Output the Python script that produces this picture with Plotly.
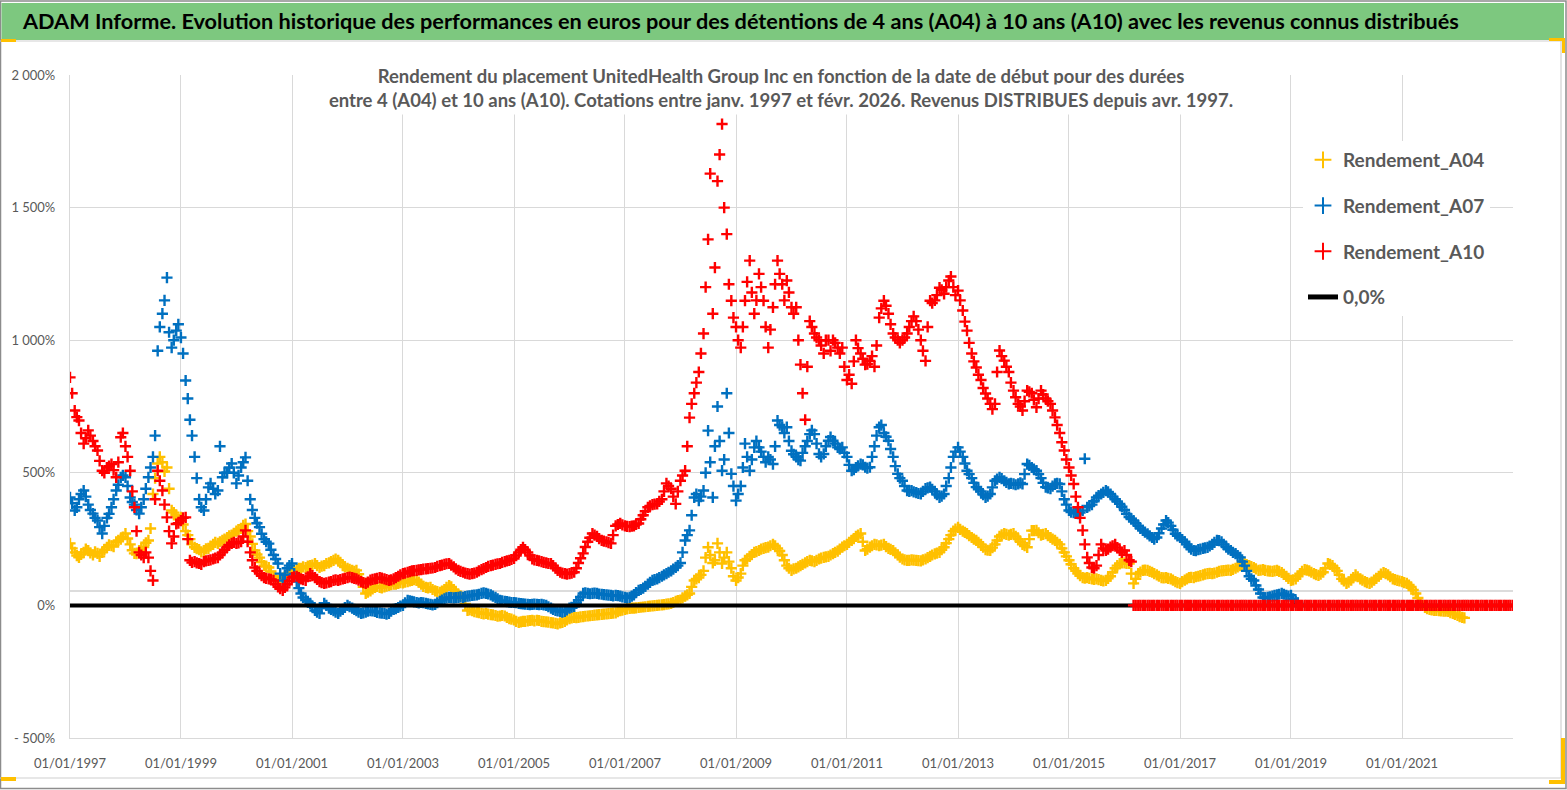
import pandas as pd
import plotly.graph_objects as go

# ---------------- data: readings on the 1st of each month (%) ----------------
A04 = [
    234, 200, 181, 200, 207, 190, 196, 200, 219, 225, 240, 250,   # 1997
    271, 230, 196, 207, 220, 245, 420, 535, 540, 520, 358, 340,   # 1998
    332, 280, 250, 219, 210, 207, 215, 230, 234, 245, 256, 265,   # 1999
    280, 290, 307, 260, 207, 180, 150, 143, 110, 94, 100, 120,    # 2000
    132, 135, 140, 143, 150, 158, 143, 150, 160, 170, 170, 150,   # 2001
    140, 132, 132, 100, 45, 55, 68, 68, 70, 75, 80, 83,           # 2002
    85, 90, 94, 94, 80, 68, 68, 55, 49, 60, 75, 60,               # 2003
    40, 30, -19, -20, -25, -30, -30, -35, -38, -40, -40, -50,     # 2004
    -55, -64, -60, -58, -56, -56, -60, -62, -65, -68, -66, -60,   # 2005
    -50, -45, -45, -42, -40, -38, -36, -34, -32, -30, -28, -20,   # 2006
    -15, -11, -10, -8, -6, -4, -2, 0, 2, 5, 8, 15,                # 2007
    20, 35, 45, 94, 105, 130, 219, 160, 234, 158, 200, 140,       # 2008
    94, 120, 170, 185, 200, 207, 215, 220, 230, 215, 190, 150,    # 2009
    132, 140, 150, 160, 170, 165, 175, 181, 185, 195, 205, 220,   # 2010
    230, 245, 260, 271, 207, 220, 230, 225, 230, 215, 207, 190,   # 2011
    175, 170, 172, 170, 168, 175, 185, 194, 200, 219, 250, 280,   # 2012
    294, 280, 271, 256, 245, 230, 210, 207, 230, 260, 271, 265,   # 2013
    271, 250, 230, 219, 282, 283, 265, 271, 256, 245, 230, 200,   # 2014
    170, 140, 120, 105, 105, 100, 100, 94, 94, 110, 140, 158,     # 2015
    160, 158, 83, 120, 132, 132, 125, 115, 105, 105, 100, 90,     # 2016
    83, 95, 105, 105, 110, 115, 120, 120, 125, 130, 132, 132,     # 2017
    140, 150, 158, 150, 143, 132, 135, 130, 128, 132, 124, 110,   # 2018
    94, 100, 120, 135, 130, 120, 113, 125, 158, 150, 130, 100,    # 2019
    83, 95, 115, 100, 90, 83, 95, 110, 124, 115, 100, 94,         # 2020
    90, 83, 70, 45, 10, -8, -15, -19, -20, -22, -23, -30,         # 2021
    -38, -45,                                                     # 2022
]
# readings around the 15th of each month (%)
A04_MID = [
    215, 188, 192, 212, 198, 202, 185, 210, 228, 222, 245, 258,   # 1997
    252, 208, 195, 214, 236, 290, 480, 560, 505, 440, 350, 325,   # 1998
    305, 265, 230, 214, 202, 213, 224, 238, 240, 250, 262, 272,   # 1999
    286, 302, 280, 232, 192, 163, 148, 128, 102, 92, 108, 126,    # 2000
    130, 140, 145, 148, 152, 150, 148, 158, 165, 175, 162, 145,   # 2001
    136, 128, 118, 70, 50, 62, 72, 66, 73, 78, 80, 86,            # 2002
    88, 92, 97, 88, 72, 66, 60, 52, 54, 68, 70, 50,               # 2003
    36, 5, -17, -24, -27, -32, -33, -36, -41, -38, -45, -52,      # 2004
    -60, -62, -60, -57, -58, -57, -61, -63, -66, -70, -64, -55,   # 2005
    -47, -46, -43, -41, -39, -37, -35, -33, -31, -29, -24, -18,   # 2006
    -13, -10, -9, -7, -5, -3, -1, 1, 3, 6, 11, 18,                # 2007
    28, 40, 70, 100, 115, 180, 190, 170, 200, 180, 165, 110,      # 2008
    105, 150, 175, 192, 203, 212, 218, 225, 225, 205, 170, 140,   # 2009
    138, 145, 155, 165, 168, 170, 178, 183, 190, 200, 212, 225,   # 2010
    238, 252, 265, 240, 212, 225, 228, 227, 222, 211, 198, 182,   # 2011
    172, 170, 171, 169, 172, 180, 190, 197, 210, 235, 265, 288,   # 2012
    287, 275, 263, 250, 238, 220, 208, 218, 245, 266, 268, 268,   # 2013
    260, 240, 225, 250, 282, 274, 268, 263, 250, 238, 215, 185,   # 2014
    155, 130, 112, 103, 102, 98, 97, 92, 102, 125, 150, 160,      # 2015
    158, 120, 100, 126, 133, 128, 120, 110, 104, 102, 95, 86,     # 2016
    90, 100, 106, 108, 112, 118, 121, 122, 128, 131, 133, 136,    # 2017
    145, 155, 154, 146, 138, 133, 132, 129, 130, 128, 117, 102,   # 2018
    96, 110, 128, 133, 125, 116, 118, 140, 155, 140, 115, 92,     # 2019
    88, 105, 108, 95, 86, 88, 102, 118, 120, 108, 97, 92,         # 2020
    86, 77, 58, 28, 0, -12, -17, -19, -21, -22, -27, -34,         # 2021
    -42, -47,                                                     # 2022
]

A07 = [
    407, 358, 400, 433, 380, 346, 320, 271, 330, 370, 433, 483,   # 1997
    483, 407, 380, 346, 400, 483, 560, 960, 1100, 1236, 972, 1036,  # 1998
    1010, 848, 700, 560, 400, 358, 445, 440, 433, 483, 500, 535,  # 1999
    460, 520, 558, 400, 330, 295, 250, 233, 190, 158, 94, 140,    # 2000
    158, 90, 45, 20, 8, -19, -30, 8, -10, -20, -30, -15,          # 2001
    0, -10, -20, -30, -25, -20, -23, -28, -30, -30, -15, -8,      # 2002
    0, 19, 15, 11, 11, 8, 4, 4, 15, 25, 30, 28,                   # 2003
    30, 30, 35, 38, 40, 45, 45, 40, 30, 19, 15, 12,               # 2004
    11, 8, 6, 4, 4, 4, 4, 0, -10, -19, -23, -23,                  # 2005
    -10, -4, 20, 45, 45, 45, 45, 42, 40, 38, 38, 35,              # 2006
    30, 30, 40, 57, 65, 80, 94, 100, 110, 120, 130, 143,          # 2007
    160, 245, 283, 407, 395, 433, 659, 407, 750, 508, 800, 496,   # 2008
    395, 450, 610, 508, 596, 596, 560, 560, 533, 697, 672, 672,   # 2009
    583, 560, 546, 600, 646, 646, 571, 571, 621, 621, 596, 596,   # 2010
    560, 508, 520, 533, 521, 521, 600, 672, 650, 621, 560, 496,   # 2011
    470, 433, 433, 425, 420, 440, 446, 430, 407, 420, 480, 560,   # 2012
    596, 560, 508, 480, 446, 430, 407, 420, 470, 483, 470, 458,   # 2013
    458, 458, 458, 533, 520, 508, 480, 446, 440, 458, 458, 400,   # 2014
    358, 350, 346, 358, 370, 380, 407, 420, 433, 420, 400, 383,   # 2015
    360, 333, 320, 300, 283, 270, 256, 256, 290, 320, 300, 270,   # 2016
    256, 240, 220, 207, 210, 215, 219, 230, 245, 240, 220, 207,   # 2017
    195, 181, 150, 110, 94, 60, 30, 30, 35, 40, 45, 38,           # 2018
    38, 15,                                                       # 2019
]
A07_MID = [
    385, 370, 420, 410, 360, 330, 295, 300, 345, 400, 455, 490,   # 1997
    450, 390, 360, 370, 440, 520, 640, 1050, 1150, 1030, 1000, 1060,  # 1998
    950, 780, 640, 480, 370, 400, 460, 420, 600, 500, 520, 500,   # 1999
    490, 540, 470, 360, 310, 270, 240, 210, 175, 120, 115, 150,   # 2000
    120, 65, 30, 15, -5, -25, -10, 0, -15, -25, -22, -8,          # 2001
    -5, -15, -25, -28, -22, -21, -26, -29, -33, -22, -12, -3,     # 2002
    10, 17, 13, 9, 10, 6, 2, 10, 20, 28, 29, 29,                  # 2003
    32, 33, 36, 39, 42, 47, 43, 35, 25, 17, 14, 11,               # 2004
    10, 7, 5, 3, 5, 3, 2, -5, -15, -21, -25, -17,                 # 2005
    -7, 8, 32, 47, 44, 46, 43, 41, 39, 36, 37, 32,                # 2006
    28, 35, 48, 60, 72, 87, 97, 105, 115, 125, 137, 150,          # 2007
    200, 265, 340, 420, 410, 500, 540, 600, 620, 550, 650, 450,   # 2008
    420, 520, 560, 550, 620, 580, 540, 550, 600, 680, 650, 620,   # 2009
    570, 550, 575, 620, 660, 610, 560, 600, 635, 610, 590, 575,   # 2010
    530, 512, 526, 530, 518, 560, 640, 680, 636, 590, 525, 480,   # 2011
    450, 430, 428, 422, 430, 443, 438, 418, 412, 450, 520, 580,   # 2012
    580, 535, 495, 462, 438, 418, 412, 445, 476, 478, 464, 460,   # 2013
    455, 462, 495, 528, 514, 495, 462, 443, 450, 460, 430, 380,   # 2014
    352, 348, 350, 553, 375, 393, 414, 426, 428, 410, 392, 372,   # 2015
    345, 326, 310, 290, 276, 262, 250, 272, 305, 312, 285, 262,   # 2016
    248, 230, 212, 206, 212, 217, 224, 238, 244, 230, 212, 200,   # 2017
    188, 165, 130, 100, 75, 45, 28, 32, 38, 42, 42, 35,           # 2018
    25, 10,                                                       # 2019
]

A10 = [
    860, 735, 697, 610, 660, 620, 584, 508, 520, 533, 483, 634,   # 1997
    600, 508, 370, 200, 180, 180, 94, 508, 433, 332, 234, 307,    # 1998
    320, 332, 170, 165, 158, 165, 170, 175, 180, 200, 220, 234,   # 1999
    234, 240, 283, 200, 143, 120, 105, 100, 94, 70, 57, 80,       # 2000
    105, 110, 100, 94, 120, 105, 90, 83, 88, 94, 94, 100,         # 2001
    105, 105, 100, 90, 83, 95, 100, 105, 100, 94, 100, 110,       # 2002
    120, 125, 130, 132, 135, 138, 140, 143, 150, 155, 158, 145,   # 2003
    132, 125, 120, 120, 125, 135, 143, 150, 155, 158, 165, 170,   # 2004
    177, 200, 219, 200, 175, 170, 165, 160, 158, 140, 125, 120,   # 2005
    120, 125, 160, 196, 240, 271, 260, 245, 240, 234, 300, 309,   # 2006
    300, 297, 300, 309, 340, 370, 380, 383, 400, 460, 440, 383,   # 2007
    470, 508, 708, 800, 880, 1025, 1380, 1100, 1600, 1815, 1400, 1149,  # 2008
    1050, 972, 1149, 1300, 1100, 1250, 1149, 972, 1124, 1300, 1211, 1225,  # 2009
    1124, 1124, 908, 700, 1072, 1025, 1000, 950, 1000, 1000, 972, 972,  # 2010
    850, 836, 1000, 950, 908, 922, 900, 1085, 1149, 1100, 1025, 1000,  # 2011
    1000, 1025, 1072, 1072, 1000, 922, 1149, 1150, 1198, 1175, 1225, 1200,  # 2012
    1187, 1112, 1036, 950, 897, 850, 799, 760, 760, 961, 923, 880,  # 2013
    810, 760, 735, 810, 800, 747, 810, 780, 760, 709, 650, 584,   # 2014
    520, 458, 370, 283, 181, 143, 150, 230, 207, 220, 230, 207,   # 2015
    207, 170,                                                     # 2016
]
A10_MID = [
    800, 710, 650, 630, 640, 600, 545, 500, 525, 510, 540, 650,   # 1997
    560, 430, 280, 190, 200, 130, 400, 470, 380, 280, 260, 310,   # 1998
    330, 250, 162, 160, 155, 168, 172, 178, 190, 210, 228, 238,   # 1999
    236, 260, 240, 170, 130, 112, 102, 98, 80, 63, 68, 92,        # 2000
    108, 105, 97, 108, 112, 98, 86, 85, 90, 96, 97, 102,          # 2001
    107, 102, 95, 86, 88, 98, 102, 103, 97, 96, 105, 115,         # 2002
    122, 127, 131, 134, 137, 139, 141, 147, 152, 157, 152, 138,   # 2003
    128, 122, 118, 122, 130, 139, 147, 152, 157, 162, 168, 173,   # 2004
    188, 210, 210, 188, 172, 168, 162, 158, 150, 132, 122, 118,   # 2005
    122, 140, 178, 220, 255, 265, 252, 242, 237, 265, 305, 304,   # 2006
    298, 299, 305, 325, 355, 375, 382, 392, 430, 450, 410, 430,   # 2007
    490, 600, 760, 840, 950, 1200, 1628, 1274, 1700, 1500, 1211, 1085,  # 2008
    1000, 1050, 1220, 1180, 1150, 1200, 1050, 1040, 1211, 1250, 1150, 1180,  # 2009
    1100, 1000, 800, 900, 1050, 1010, 980, 1000, 960, 990, 950, 900,  # 2010
    870, 920, 970, 930, 910, 940, 980, 1120, 1130, 1060, 1010, 990,  # 2011
    1010, 1050, 1090, 1040, 960, 1050, 1140, 1170, 1190, 1200, 1240, 1170,  # 2012
    1150, 1070, 990, 920, 870, 820, 780, 740, 880, 940, 900, 840,  # 2013
    785, 750, 770, 805, 775, 780, 795, 770, 735, 680, 615, 550,   # 2014
    490, 410, 330, 230, 160, 140, 190, 215, 212, 225, 218, 200,   # 2015
    190, 165,                                                     # 2016
]
A10_TAIL_START = "2016-03-01"
A10_TAIL_END = "2023-01-01"

ZERO_LINE_DATES = ["1997-01-01", "2023-01-01"]
ZERO_LINE_VALUES = [0, 0]
REF_LINE_VALUES = [54, 54]

SERIES_NAMES = ["Rendement_A04", "Rendement_A07", "Rendement_A10"]
ZERO_NAME = "0,0%"

Y_TICKS = [-500, 0, 500, 1000, 1500, 2000]
Y_TICK_TEXT = ["- 500%", "0%", "500%", "1 000%", "1 500%", "2 000%"]
X_TICKS = ["1997-01-01", "1999-01-01", "2001-01-01", "2003-01-01", "2005-01-01",
           "2007-01-01", "2009-01-01", "2011-01-01", "2013-01-01", "2015-01-01",
           "2017-01-01", "2019-01-01", "2021-01-01"]
X_TICK_TEXT = ["01/01/1997", "01/01/1999", "01/01/2001", "01/01/2003", "01/01/2005",
               "01/01/2007", "01/01/2009", "01/01/2011", "01/01/2013", "01/01/2015",
               "01/01/2017", "01/01/2019", "01/01/2021"]

TITLE = ("ADAM Informe. Evolution historique des performances en euros pour des "
         "détentions de 4 ans (A04) à 10 ans (A10) avec les revenus connus distribués")
SUB1 = ("Rendement du placement UnitedHealth Group Inc en fonction de la date de "
        "début pour des durées")
SUB2 = ("entre 4 (A04) et 10 ans (A10). Cotations entre janv. 1997 et févr. 2026. "
        "Revenus DISTRIBUES depuis avr. 1997.")

# ---------------- figure ----------------
W, H = 1567, 790
ML, MR, MT, MB = 70, 54, 75, 52
PW, PH = W - ML - MR, H - MT - MB


def px(xp):
    return (xp - ML) / PW


def py(yp):
    return (H - MB - yp) / PH


FONT = "Lato"
GREY = "#595959"
COLORS = ["#FFC000", "#0070C0", "#FF0000"]


def dated(values, mids):
    starts = pd.date_range("1997-01-01", periods=len(values), freq="MS")
    middles = starts + pd.Timedelta(days=14)
    return list(starts) + list(middles), list(values) + list(mids)


x04, y04 = dated(A04, A04_MID)
x07, y07 = dated(A07, A07_MID)
x10, y10 = dated(A10, A10_MID)
d10_tail = pd.date_range(A10_TAIL_START, A10_TAIL_END, freq="SMS")
x10 = x10 + list(d10_tail)
y10 = y10 + [0] * len(d10_tail)

fig = go.Figure()

fig.add_trace(go.Scatter(x=ZERO_LINE_DATES, y=REF_LINE_VALUES, mode="lines",
                         line=dict(color="#D0D0D0", width=1.5), showlegend=False,
                         hoverinfo="skip"))


def marker_trace(x, y, name, color, rank):
    return go.Scatter(x=x, y=y, mode="markers", name=name, legendgroup=name,
                      legendrank=rank,
                      marker=dict(symbol="cross-thin", size=8, color=color,
                                  line=dict(color=color, width=2.4)))


fig.add_trace(marker_trace(x04, y04, SERIES_NAMES[0], COLORS[0], 1))
fig.add_trace(marker_trace(x07, y07, SERIES_NAMES[1], COLORS[1], 2))
fig.add_trace(go.Scatter(x=ZERO_LINE_DATES, y=ZERO_LINE_VALUES, mode="lines",
                         name=ZERO_NAME, legendgroup=ZERO_NAME, legendrank=4,
                         line=dict(color="black", width=4)))
fig.add_trace(marker_trace(x10, y10, SERIES_NAMES[2], COLORS[2], 3))

shapes = []
# outer frame
shapes.append(dict(type="rect", xref="paper", yref="paper", x0=px(0.5), x1=px(W - 1),
                   y0=py(H - 1.5), y1=py(1), line=dict(color="#8C8C8C", width=1.5)))
# green title band
shapes.append(dict(type="rect", xref="paper", yref="paper", x0=px(1.5), x1=px(1564),
                   y0=py(40), y1=py(3), fillcolor="#7DC87F", line=dict(width=0)))
# inner panel border
shapes.append(dict(type="line", xref="paper", yref="paper", x0=px(0), x1=px(1564),
                   y0=py(41), y1=py(41), line=dict(color="#D0D0D0", width=1.2)))
shapes.append(dict(type="line", xref="paper", yref="paper", x0=px(1561), x1=px(1561),
                   y0=py(41), y1=py(778), line=dict(color="#D0D0D0", width=1.2)))
shapes.append(dict(type="line", xref="paper", yref="paper", x0=px(0), x1=px(1561),
                   y0=py(778), y1=py(778), line=dict(color="#D0D0D0", width=1.2)))
# yellow selection handles
HANDLE = "#FFC000"
for (x0, y0, x1, y1) in [(1, 39, 16, 42), (1, 777, 16, 781), (1549, 38, 1565, 41),
                         (1562, 38, 1565, 53), (1561, 738, 1565, 784),
                         (1549, 780, 1565, 784)]:
    shapes.append(dict(type="rect", xref="paper", yref="paper", x0=px(x0), x1=px(x1),
                       y0=py(y1), y1=py(y0), fillcolor=HANDLE, line=dict(width=0)))

annotations = [
    dict(text=TITLE, xref="paper", yref="paper", x=px(20), y=py(21), xanchor="left",
         yanchor="middle", showarrow=False,
         font=dict(family=FONT, size=21.7, color="black", weight="bold")),
    dict(text=SUB1, xref="paper", yref="paper", x=px(781), y=py(75), xanchor="center",
         yanchor="middle", showarrow=False, width=918, height=27, bgcolor="white",
         font=dict(family=FONT, size=18.5, color=GREY, weight="bold")),
    dict(text=SUB2, xref="paper", yref="paper", x=px(781), y=py(100), xanchor="center",
         yanchor="middle", showarrow=False, width=918, height=27, bgcolor="white",
         font=dict(family=FONT, size=18.5, color=GREY, weight="bold")),
]

fig.update_layout(
    width=W, height=H,
    margin=dict(l=ML, r=MR, t=MT, b=MB, pad=0),
    paper_bgcolor="white", plot_bgcolor="white",
    shapes=shapes, annotations=annotations,
    showlegend=True,
    legend=dict(x=px(1303), y=py(141), xanchor="left", yanchor="top",
                bgcolor="white", tracegroupgap=18, itemsizing="constant",
                font=dict(family=FONT, size=19, color=GREY, weight="bold")),
    xaxis=dict(type="date", range=["1997-01-01", "2023-01-01"], tickvals=X_TICKS,
               ticktext=X_TICK_TEXT, showgrid=True, gridcolor="#D9D9D9", gridwidth=1.2,
               zeroline=False, showline=True, linecolor="#D9D9D9", linewidth=1.2,
               ticks="", ticklabelstandoff=13,
               tickfont=dict(family=FONT, size=13, color=GREY)),
    yaxis=dict(range=[-500, 2000], tickvals=Y_TICKS, ticktext=Y_TICK_TEXT,
               showgrid=True, gridcolor="#D9D9D9", gridwidth=1.2, zeroline=False,
               showline=True, linecolor="#D9D9D9", linewidth=1.2, ticks="",
               ticklabelstandoff=11,
               tickfont=dict(family=FONT, size=13, color=GREY)),
)

fig.write_html("out.html", config={"displayModeBar": False},
               post_script="document.body.style.margin='0px';"
                           "document.body.style.overflow='hidden';")
